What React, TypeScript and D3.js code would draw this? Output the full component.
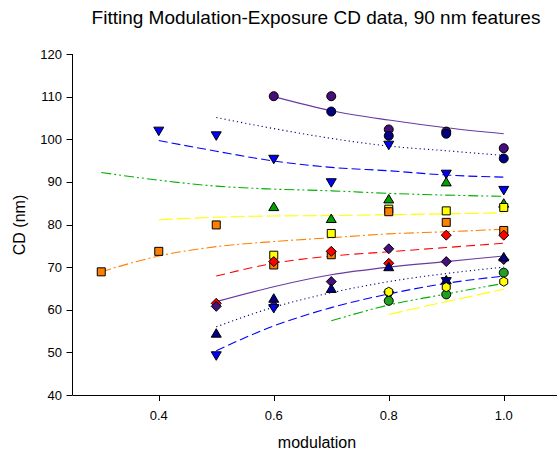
import React from "react";
import * as d3 from "d3";

const W = 557;
const H = 454;

const title = "Fitting Modulation-Exposure CD data, 90 nm features";
const xLabel = "modulation";
const yLabel = "CD (nm)";
const xTicks = [0.4, 0.6, 0.8, 1.0];
const yTicks = [40, 50, 60, 70, 80, 90, 100, 110, 120];

// scatter series (measured)
const s1x = [0.6, 0.7, 0.8, 0.9, 1.0];
const s1y = [110.1, 110.1, 102.3, 101.8, 97.9];
const s2x = [0.7, 0.8, 0.9, 1.0];
const s2y = [106.5, 100.8, 101.3, 95.5];
const s3x = [0.4, 0.5, 0.6, 0.7, 0.8, 0.9, 1.0];
const s3y = [101.9, 100.8, 95.3, 89.8, 98.6, 91.8, 88.0];
const s4x = [0.6, 0.7, 0.8, 0.9, 1.0];
const s4y = [84.2, 81.4, 86.0, 90.0, 85.0];
const s5x = [0.6, 0.7, 0.8, 0.9, 1.0];
const s5y = [72.8, 77.9, 83.6, 83.2, 84.0];
const s6x = [0.3, 0.4, 0.5, 0.6, 0.7, 0.8, 0.9, 1.0];
const s6y = [68.9, 73.7, 79.9, 70.5, 72.9, 83.0, 80.5, 78.6];
const s7x = [0.5, 0.6, 0.7, 0.8, 0.9, 1.0];
const s7y = [61.5, 71.3, 73.7, 70.9, 77.5, 77.5];
const s8x = [0.5, 0.6, 0.7, 0.8, 0.9, 1.0];
const s8y = [60.8, 60.9, 66.6, 74.3, 71.3, 71.8];
const s9x = [0.5, 0.6, 0.8, 0.9];
const s9y = [49.2, 60.3, 63.3, 66.6];
const s10x = [0.5, 0.6, 0.7, 0.8, 0.9, 1.0];
const s10y = [54.5, 62.7, 65.0, 70.1, 67.0, 72.4];
const s11x = [0.8, 0.9, 1.0];
const s11y = [62.1, 63.6, 68.7];
const s12x = [0.8, 0.9, 1.0];
const s12y = [64.2, 65.3, 66.6];

// fitted curves
const f1x = [0.6, 0.7, 0.8, 0.9, 1.0];
const f1y = [110.0, 106.7, 104.5, 102.7, 101.3];
const f2x = [0.5, 0.6, 0.7, 0.8, 0.9, 1.0];
const f2y = [105.1, 102.5, 100.2, 98.4, 97.3, 96.2];
const f3x = [0.4, 0.5, 0.6, 0.7, 0.8, 0.9, 1.0];
const f3y = [99.7, 97.2, 94.9, 93.4, 92.6, 91.6, 91.1];
const f4x = [0.3, 0.4, 0.5, 0.6, 0.7, 0.8, 0.9, 1.0];
const f4y = [92.2, 90.4, 89.0, 88.3, 87.9, 87.3, 86.9, 86.6];
const f5x = [0.4, 0.5, 0.6, 0.7, 0.8, 0.9, 1.0];
const f5y = [81.1, 81.7, 82.0, 82.1, 82.3, 82.5, 82.7];
const f6x = [0.3, 0.4, 0.5, 0.6, 0.7, 0.8, 0.9, 1.0];
const f6y = [68.9, 72.6, 74.8, 76.0, 76.9, 77.8, 78.3, 78.9];
const f7x = [0.5, 0.6, 0.7, 0.8, 0.9, 1.0];
const f7y = [67.9, 70.9, 72.6, 73.6, 74.6, 75.6];
const f8x = [0.5, 0.6, 0.7, 0.8, 0.9, 1.0];
const f8y = [61.9, 65.4, 68.2, 70.0, 71.3, 72.6];
const f9x = [0.5, 0.6, 0.7, 0.8, 0.9, 1.0];
const f9y = [56.0, 60.6, 64.0, 66.6, 68.5, 70.0];
const f10x = [0.5, 0.6, 0.7, 0.8, 0.9, 1.0];
const f10y = [50.4, 56.2, 60.5, 63.7, 66.2, 67.9];
const f11x = [0.7, 0.8, 0.9, 1.0];
const f11y = [57.4, 61.1, 63.7, 66.2];
const f12x = [0.8, 0.9, 1.0];
const f12y = [58.9, 61.9, 64.8];

const PURPLE = "#45107a";
const NAVY = "#000080";
const BLUE = "#0000ff";
const GREEN = "#00b000";
const YELLOW = "#ffff00";
const ORANGE = "#ff8000";
const RED = "#ff0000";

type Shape = "circle" | "tdown" | "tup" | "square" | "diamond" | "hex";

const scatter: { xs: number[]; ys: number[]; shape: Shape; fill: string }[] = [
  { xs: s1x, ys: s1y, shape: "circle", fill: PURPLE },
  { xs: s2x, ys: s2y, shape: "circle", fill: NAVY },
  { xs: s3x, ys: s3y, shape: "tdown", fill: BLUE },
  { xs: s4x, ys: s4y, shape: "tup", fill: "#00a000" },
  { xs: s5x, ys: s5y, shape: "square", fill: YELLOW },
  { xs: s6x, ys: s6y, shape: "square", fill: ORANGE },
  { xs: s7x, ys: s7y, shape: "diamond", fill: RED },
  { xs: s8x, ys: s8y, shape: "diamond", fill: PURPLE },
  { xs: s9x, ys: s9y, shape: "tdown", fill: BLUE },
  { xs: s10x, ys: s10y, shape: "tup", fill: NAVY },
  { xs: s11x, ys: s11y, shape: "circle", fill: "#20a020" },
  { xs: s12x, ys: s12y, shape: "hex", fill: YELLOW },
];

const fits: { xs: number[]; ys: number[]; color: string; dash: string }[] = [
  { xs: f1x, ys: f1y, color: "#6a3aa0", dash: "" },
  { xs: f2x, ys: f2y, color: NAVY, dash: "1.2,3" },
  { xs: f3x, ys: f3y, color: BLUE, dash: "9,4" },
  { xs: f4x, ys: f4y, color: GREEN, dash: "10,3,2,3,2,3" },
  { xs: f5x, ys: f5y, color: YELLOW, dash: "14,4" },
  { xs: f6x, ys: f6y, color: ORANGE, dash: "10,3,2,3" },
  { xs: f7x, ys: f7y, color: RED, dash: "9,5" },
  { xs: f8x, ys: f8y, color: "#6a3aa0", dash: "" },
  { xs: f9x, ys: f9y, color: NAVY, dash: "1.2,3" },
  { xs: f10x, ys: f10y, color: BLUE, dash: "9,4" },
  { xs: f11x, ys: f11y, color: GREEN, dash: "10,3,2,3,2,3" },
  { xs: f12x, ys: f12y, color: YELLOW, dash: "14,4" },
];

function markerPath(shape: Shape, cx: number, cy: number): string {
  const p = d3.path();
  if (shape === "circle") {
    p.moveTo(cx + 4.5, cy);
    p.arc(cx, cy, 4.5, 0, Math.PI * 2);
  } else if (shape === "tdown") {
    p.moveTo(cx - 5, cy - 4);
    p.lineTo(cx + 5, cy - 4);
    p.lineTo(cx, cy + 4.5);
    p.closePath();
  } else if (shape === "tup") {
    p.moveTo(cx - 5, cy + 4);
    p.lineTo(cx + 5, cy + 4);
    p.lineTo(cx, cy - 4.5);
    p.closePath();
  } else if (shape === "square") {
    p.rect(cx - 4, cy - 4, 8, 8);
  } else if (shape === "diamond") {
    p.moveTo(cx, cy - 5);
    p.lineTo(cx + 5, cy);
    p.lineTo(cx, cy + 5);
    p.lineTo(cx - 5, cy);
    p.closePath();
  } else {
    for (let i = 0; i < 6; i++) {
      const a = (Math.PI / 3) * i + Math.PI / 6;
      const px = cx + 4.6 * Math.cos(a);
      const py = cy + 4.6 * Math.sin(a);
      if (i === 0) p.moveTo(px, py);
      else p.lineTo(px, py);
    }
    p.closePath();
  }
  return p.toString();
}

export default function App() {
  const x = d3.scaleLinear().domain([0.25, 1.1]).range([72.5, 561.25]);
  const y = d3.scaleLinear().domain([40, 120]).range([395, 54]);
  const font = "'Liberation Sans', Arial, sans-serif";
  const line = d3
    .line<[number, number]>()
    .x((d) => x(d[0]))
    .y((d) => y(d[1]))
    .curve(d3.curveMonotoneX);

  return (
    <svg
      width={W}
      height={H}
      style={{ position: "absolute", left: 0, top: 0, background: "#fff" }}
      fontFamily={font}
    >
      <rect x={0} y={0} width={W} height={H} fill="#fff" />
      <text x={316} y={24} textAnchor="middle" fontSize={19} fill="#000">
        {title}
      </text>

      {fits.map((f, i) => (
        <path
          key={"f" + i}
          d={line(f.xs.map((v, j) => [v, f.ys[j]] as [number, number])) || ""}
          fill="none"
          stroke={f.color}
          strokeWidth={1.1}
          strokeDasharray={f.dash || undefined}
        />
      ))}

      {scatter.map((s, i) => (
        <g key={"s" + i}>
          {s.xs.map((v, j) => (
            <path
              key={j}
              d={markerPath(s.shape, x(v), y(s.ys[j]))}
              fill={s.fill}
              stroke="#000"
              strokeWidth={1}
            />
          ))}
        </g>
      ))}

      {/* axes */}
      <line x1={72.5} y1={54} x2={72.5} y2={395} stroke="#000" strokeWidth={1} />
      <line x1={72.5} y1={395.5} x2={W} y2={395.5} stroke="#000" strokeWidth={1} />
      {yTicks.map((t) => (
        <g key={"yt" + t}>
          <line x1={66.5} x2={72.5} y1={Math.round(y(t)) + 0.5} y2={Math.round(y(t)) + 0.5} stroke="#000" />
          <text x={62} y={y(t) + 4.5} textAnchor="end" fontSize={13} fill="#000">
            {t}
          </text>
        </g>
      ))}
      {xTicks.map((t) => (
        <g key={"xt" + t}>
          <line x1={Math.round(x(t)) + 0.5} x2={Math.round(x(t)) + 0.5} y1={395} y2={401} stroke="#000" />
          <text x={x(t)} y={420} textAnchor="middle" fontSize={13} fill="#000">
            {t.toFixed(1)}
          </text>
        </g>
      ))}
      <text x={317} y={448} textAnchor="middle" fontSize={16} fill="#000">
        {xLabel}
      </text>
      <text
        transform={`translate(25,225) rotate(-90)`}
        textAnchor="middle"
        fontSize={16}
        fill="#000"
      >
        {yLabel}
      </text>
    </svg>
  );
}
